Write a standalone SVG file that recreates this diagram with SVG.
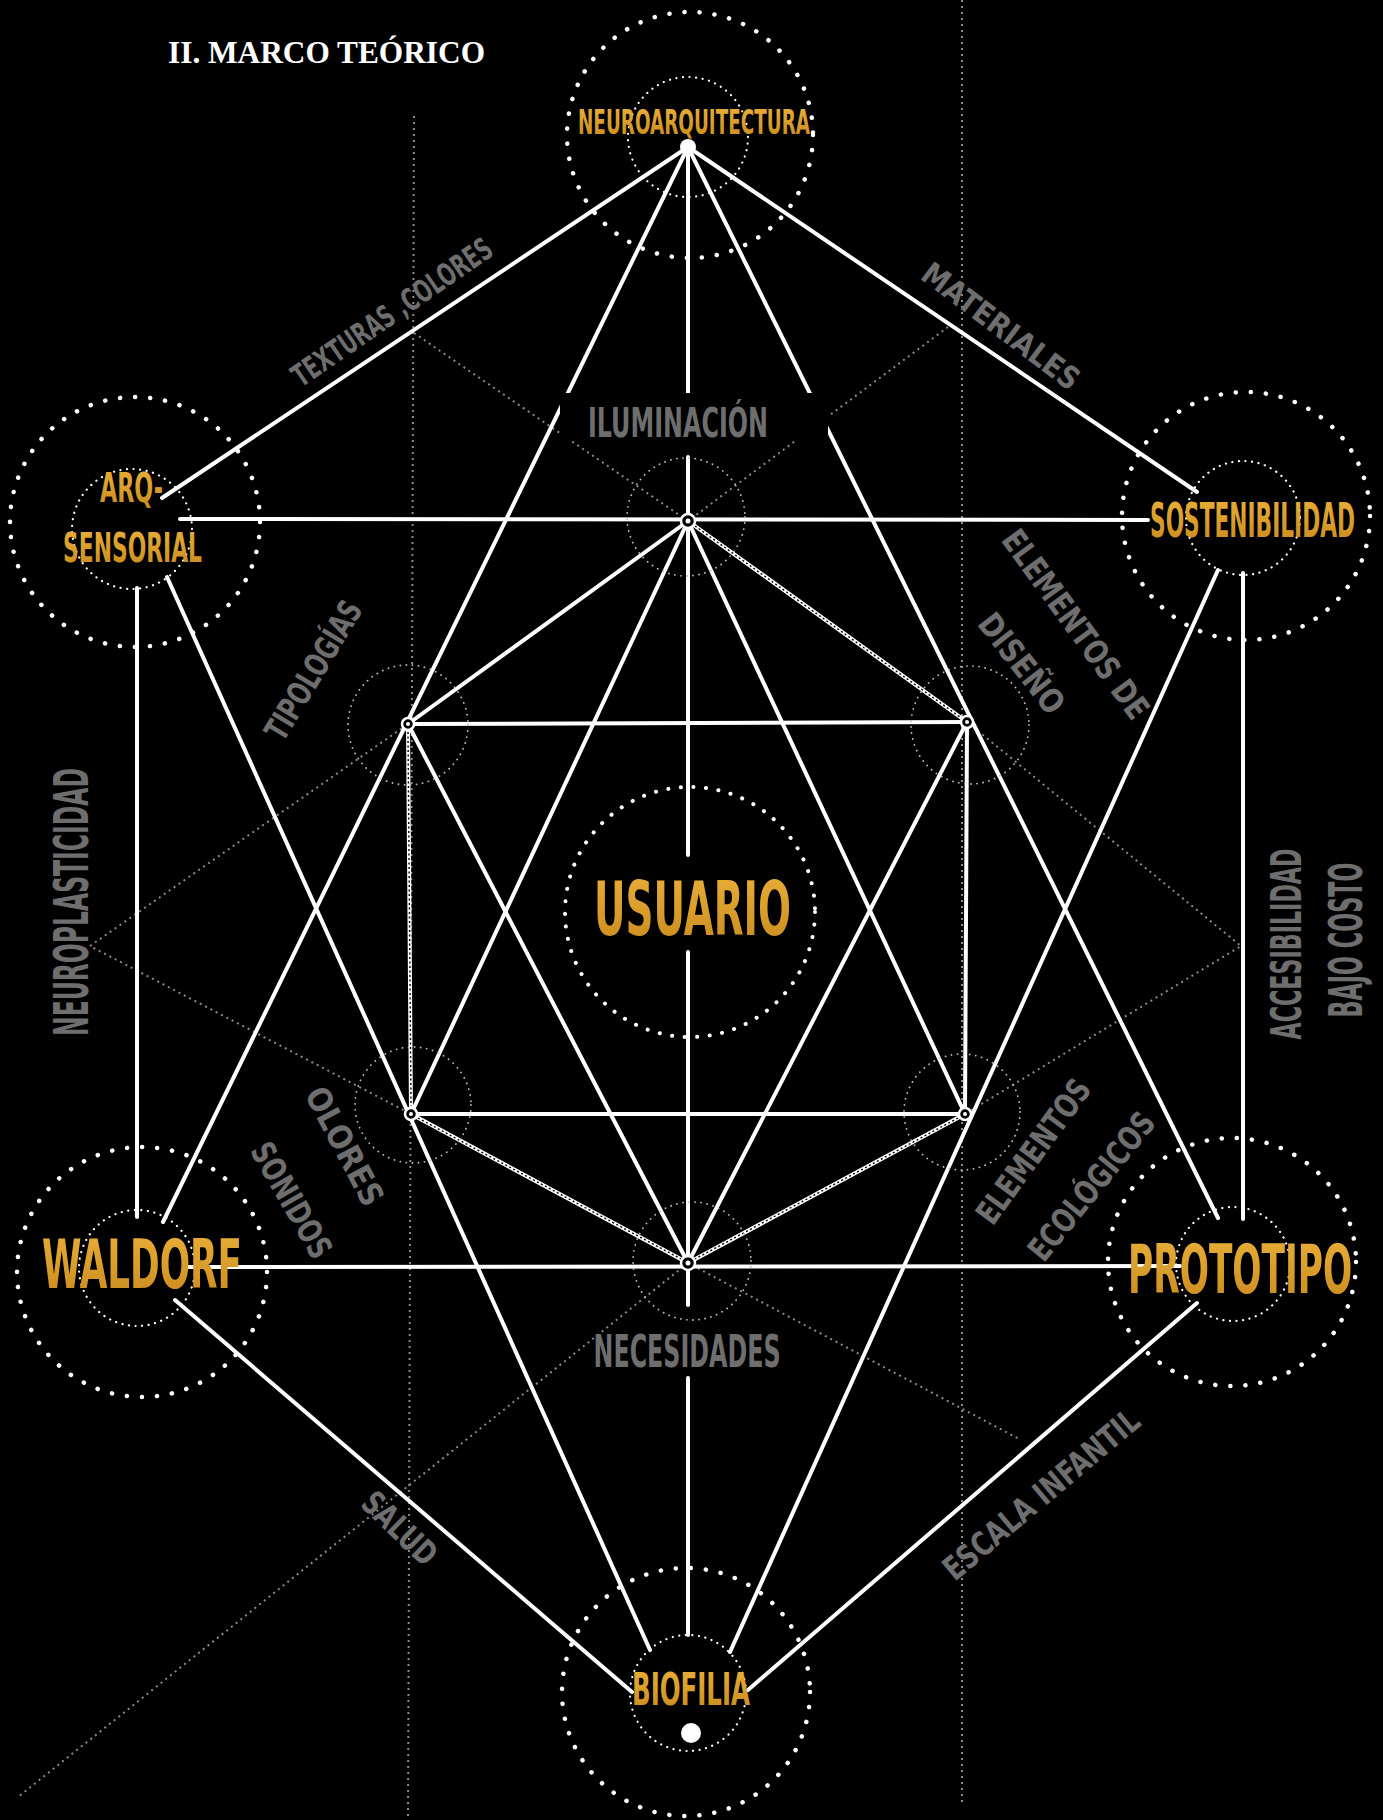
<svg xmlns="http://www.w3.org/2000/svg" width="1383" height="1820" viewBox="0 0 1383 1820">
<defs>
<linearGradient id="goldg" x1="0" y1="0" x2="0" y2="1">
<stop offset="0" stop-color="#EBB13A"/>
<stop offset="1" stop-color="#C88A1C"/>
</linearGradient>
</defs>
<style>
.bg{fill:#000}
.ln{stroke:#fff;stroke-width:4;fill:none;stroke-linecap:round;stroke-linejoin:round}
.ht{stroke:#000;stroke-width:1.4;fill:none;stroke-dasharray:2 2.5}
.dl{stroke:#8a8a8a;stroke-width:2;fill:none;stroke-dasharray:2 4}
.oc{fill:none;stroke:#fff;stroke-width:4.5;stroke-dasharray:0.1 15;stroke-linecap:round}
.ic{fill:none;stroke:#fff;stroke-width:2.2;stroke-dasharray:0.1 6.5;stroke-linecap:round}
.hc{fill:none;stroke:#bbb;stroke-width:1.8;stroke-dasharray:0.1 6;stroke-linecap:round}
.uc{fill:none;stroke:#fff;stroke-width:4;stroke-dasharray:0.1 12.5;stroke-linecap:round}
.gold{fill:url(#goldg);font-family:'DejaVu Sans Condensed','Liberation Sans Narrow',sans-serif;font-weight:bold}
.gray{fill:#6e6e6e;font-family:'DejaVu Sans Condensed','Liberation Sans Narrow',sans-serif;font-weight:bold}
.hub{fill:#000;stroke:#fff;stroke-width:2.5}
.hd{fill:#fff}
</style>
<rect class="bg" x="0" y="0" width="1383" height="1820"/>
<g id="guides">
<line class="dl" x1="414" y1="116" x2="408" y2="1820"/>
<line class="dl" x1="962" y1="0" x2="962" y2="1805"/>
<polyline class="dl" points="948,327 688,521 408,724 90,946 411,1114 688,1263 1021,1440"/>
<polyline class="dl" points="414,333 688,521 967,722 1241,946 965,1114 688,1263 18,1797"/>
</g>
<g id="connectors">
<line class="ln" x1="688" y1="147" x2="162" y2="498"/>
<line class="ln" x1="688" y1="147" x2="1197" y2="492"/>
<line class="ln" x1="688" y1="147" x2="163" y2="1222"/>
<line class="ln" x1="688" y1="147" x2="1218" y2="1218"/>
<line class="ln" x1="688" y1="147" x2="688" y2="393"/>
<line class="ln" x1="688" y1="457" x2="688" y2="855"/>
<line class="ln" x1="688" y1="952" x2="688" y2="1305"/>
<line class="ln" x1="688" y1="1378" x2="688" y2="1635"/>
<line class="ln" x1="180" y1="519" x2="1148" y2="520"/>
<line class="ln" x1="137" y1="588" x2="137" y2="1217"/>
<line class="ln" x1="167" y1="577" x2="650" y2="1650"/>
<line class="ln" x1="1218" y1="570" x2="730" y2="1652"/>
<line class="ln" x1="1243" y1="573" x2="1243" y2="1219"/>
<line class="ln" x1="175" y1="1300" x2="632" y2="1692"/>
<line class="ln" x1="1197" y1="1303" x2="748" y2="1690"/>
<line class="ln" x1="188" y1="1267" x2="1180" y2="1266"/>
<polygon class="ln" points="688,521 967,722 965,1114 688,1263 411,1114 408,724"/>
<line class="ln" x1="408" y1="724" x2="967" y2="722"/>
<line class="ln" x1="411" y1="1114" x2="965" y2="1114"/>
<line class="ln" x1="688" y1="521" x2="411" y2="1114"/>
<line class="ln" x1="688" y1="521" x2="965" y2="1114"/>
<line class="ln" x1="408" y1="724" x2="688" y2="1263"/>
<line class="ln" x1="967" y1="722" x2="688" y2="1263"/>
<line class="ht" x1="695" y1="526" x2="960" y2="717"/>
<line class="ht" x1="408" y1="732" x2="411" y2="1106"/>
<line class="ht" x1="418" y1="1118" x2="681" y2="1259"/>
<line class="ht" x1="958" y1="1118" x2="695" y2="1259"/>
<polygon fill="#000" points="560,393 828,393 828,441 560,441"/>
</g>
<g id="title"><text x="168" y="63" font-family="'Liberation Serif',serif" font-weight="bold" font-size="31" fill="#fff" textLength="317" lengthAdjust="spacingAndGlyphs">II. MARCO TEÓRICO</text></g>
<g id="neuroarquitectura">
<circle class="oc" cx="690" cy="135" r="123"/>
<circle class="ic" cx="688" cy="137" r="60"/>
<text class="gold" x="578" y="134" font-size="33" textLength="232" lengthAdjust="spacingAndGlyphs">NEUROARQUITECTURA</text>
<circle cx="688" cy="147" r="8" fill="#fff"/>
</g>
<g id="arq-sensorial">
<circle class="oc" cx="135" cy="522" r="125"/>
<circle class="ic" cx="132" cy="529" r="60"/>
<text class="gold" x="100" y="502" font-size="40" textLength="63" lengthAdjust="spacingAndGlyphs">ARQ-</text>
<text class="gold" x="63" y="562" font-size="41" textLength="139" lengthAdjust="spacingAndGlyphs">SENSORIAL</text>
</g>
<g id="sostenibilidad">
<circle class="oc" cx="1246" cy="516" r="124"/>
<circle class="ic" cx="1243" cy="518" r="57"/>
<text class="gold" transform="translate(1150,537) scale(0.5,1)" x="0" y="0" font-size="48" textLength="410" lengthAdjust="spacingAndGlyphs">SOSTENIBILIDAD</text>
</g>
<g id="waldorf">
<circle class="oc" cx="142" cy="1272" r="125"/>
<circle class="ic" cx="137" cy="1268" r="58"/>
<text class="gold" x="42" y="1288" font-size="68" textLength="200" lengthAdjust="spacingAndGlyphs">WALDORF</text>
</g>
<g id="prototipo">
<circle class="oc" cx="1232" cy="1262" r="124"/>
<circle class="ic" cx="1233" cy="1264" r="57"/>
<text class="gold" transform="translate(1128,1293) scale(0.59,1)" x="0" y="0" font-size="68" textLength="380" lengthAdjust="spacingAndGlyphs">PROTOTIPO</text>
</g>
<g id="biofilia">
<circle class="oc" cx="686" cy="1692" r="124"/>
<circle class="ic" cx="688" cy="1693" r="58"/>
<text class="gold" x="632" y="1705" font-size="44" textLength="118" lengthAdjust="spacingAndGlyphs">BIOFILIA</text>
<circle cx="691" cy="1733" r="10" fill="#fff"/>
</g>
<g id="usuario">
<circle class="uc" cx="690" cy="912" r="125"/>
<text class="gold" x="594" y="935" font-size="75" textLength="197" lengthAdjust="spacingAndGlyphs">USUARIO</text>
</g>
<g id="hubs">
<circle class="hc" cx="686" cy="517" r="59"/>
<circle class="hc" cx="692" cy="1261" r="59"/>
<circle class="hc" cx="408" cy="725" r="60"/>
<circle class="hc" cx="970" cy="725" r="59"/>
<circle class="hc" cx="413" cy="1105" r="58"/>
<circle class="hc" cx="962" cy="1112" r="58"/>
<circle class="hub" cx="688" cy="521" r="7"/><circle class="hd" cx="688" cy="521" r="2.5"/>
<circle class="hub" cx="688" cy="1263" r="7"/><circle class="hd" cx="688" cy="1263" r="2.5"/>
<circle class="hub" cx="408" cy="724" r="6"/><circle class="hd" cx="408" cy="724" r="2"/>
<circle class="hub" cx="967" cy="722" r="6"/><circle class="hd" cx="967" cy="722" r="2"/>
<circle class="hub" cx="411" cy="1114" r="6"/><circle class="hd" cx="411" cy="1114" r="2"/>
<circle class="hub" cx="965" cy="1114" r="6"/><circle class="hd" cx="965" cy="1114" r="2"/>
</g>
<g id="labels">
<text class="gray" x="678" y="437" font-size="40" text-anchor="middle" textLength="180" lengthAdjust="spacingAndGlyphs">ILUMINACIÓN</text>
<text class="gray" x="687" y="1367" font-size="45" text-anchor="middle" textLength="187" lengthAdjust="spacingAndGlyphs">NECESIDADES</text>
<text class="gray" transform="translate(88,902) rotate(-90)" font-size="48" text-anchor="middle" textLength="268" lengthAdjust="spacingAndGlyphs">NEUROPLASTICIDAD</text>
<text class="gray" transform="translate(1301,944) rotate(-90)" font-size="43" text-anchor="middle" textLength="191" lengthAdjust="spacingAndGlyphs">ACCESIBILIDAD</text>
<text class="gray" transform="translate(1362,940) rotate(-90)" font-size="46" text-anchor="middle" textLength="155" lengthAdjust="spacingAndGlyphs">BAJO COSTO</text>
<text class="gray" transform="translate(392,312) rotate(-34.6)" y="11" font-size="31" text-anchor="middle" textLength="236" lengthAdjust="spacingAndGlyphs">TEXTURAS ,COLORES</text>
<text class="gray" transform="translate(1001,326) rotate(37)" y="11" font-size="31" text-anchor="middle" textLength="189" lengthAdjust="spacingAndGlyphs">MATERIALES</text>
<text class="gray" transform="translate(313,670) rotate(-59)" y="12" font-size="33" text-anchor="middle" textLength="156" lengthAdjust="spacingAndGlyphs">TIPOLOGÍAS</text>
<text class="gray" transform="translate(1076,624) rotate(54)" y="12" font-size="33" text-anchor="middle" textLength="225" lengthAdjust="spacingAndGlyphs">ELEMENTOS DE</text>
<text class="gray" transform="translate(1022,663) rotate(52)" y="12" font-size="33" text-anchor="middle" textLength="118" lengthAdjust="spacingAndGlyphs">DISEÑO</text>
<text class="gray" transform="translate(345,1146) rotate(62)" y="12" font-size="33" text-anchor="middle" textLength="130" lengthAdjust="spacingAndGlyphs">OLORES</text>
<text class="gray" transform="translate(292,1200) rotate(60)" y="12" font-size="33" text-anchor="middle" textLength="128" lengthAdjust="spacingAndGlyphs">SONIDOS</text>
<text class="gray" transform="translate(1033,1151) rotate(-54)" y="12" font-size="33" text-anchor="middle" textLength="170" lengthAdjust="spacingAndGlyphs">ELEMENTOS</text>
<text class="gray" transform="translate(1091,1186) rotate(-51)" y="12" font-size="33" text-anchor="middle" textLength="180" lengthAdjust="spacingAndGlyphs">ECOLÓGICOS</text>
<text class="gray" transform="translate(400,1528) rotate(44)" y="12" font-size="33" text-anchor="middle" textLength="90" lengthAdjust="spacingAndGlyphs">SALUD</text>
<text class="gray" transform="translate(1041,1494) rotate(-40)" y="12" font-size="33" text-anchor="middle" textLength="245" lengthAdjust="spacingAndGlyphs">ESCALA INFANTIL</text>
</g>
</svg>
